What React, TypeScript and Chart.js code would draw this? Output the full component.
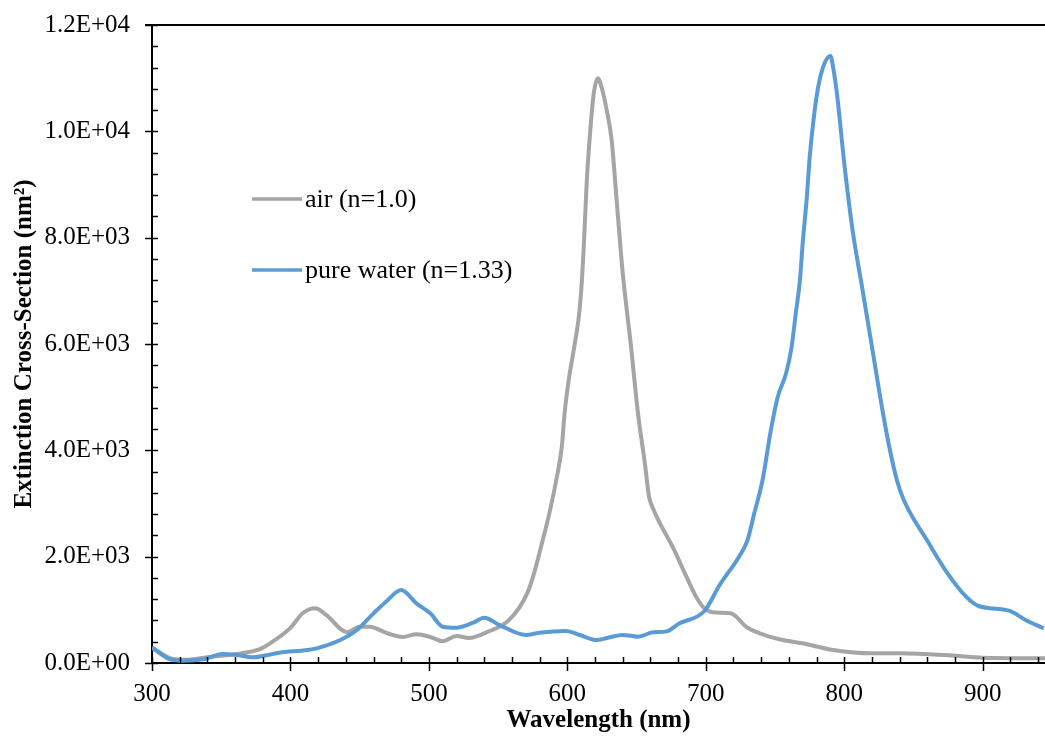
import React, { useEffect, useRef } from "react";
import { Chart, registerables } from "chart.js";

Chart.register(...registerables);

// ---------- data ----------
const airWavelengths = [
  300, 315, 325, 340, 361, 378, 387, 400, 409, 418, 426, 441, 450, 457, 470, 481, 491, 501, 510, 520,
  529, 542, 558, 571, 576, 581, 587, 592, 596, 598, 601, 605, 608, 610, 612, 614, 617, 619, 622, 625,
  628, 632, 636, 640, 646, 651, 656, 659, 662, 667, 676, 686, 693, 699, 705, 718, 722, 729, 739, 753,
  770, 792, 820, 840, 873, 900, 945,
];
const airValues = [
  290, 75, 60, 110, 170, 260, 400, 660, 940, 1030, 900, 580, 680, 680, 560, 490, 540, 490, 410, 510,
  470, 580, 810, 1310, 1690, 2187, 2815, 3442, 4068, 4696, 5323, 5949, 6450, 7000, 7900, 9050, 10156, 10700, 10997, 10800,
  10457, 9836, 8576, 7335, 5949, 4696, 3756, 3128, 2900, 2620, 2187, 1623, 1247, 1028, 953, 934, 871, 683, 558, 446,
  370, 245, 182, 182, 150, 100, 88,
];

const waterWavelengths = [
  300, 313, 323, 337, 351, 361, 373, 392, 412, 419, 436, 448, 460, 469, 480, 491, 501, 510, 520, 532,
  540, 551, 570, 580, 599, 609, 621, 630, 640, 651, 662, 671, 681, 699, 710, 724, 730, 735, 741, 747,
  752, 758, 762, 765, 768, 770, 773, 775, 777, 780, 784, 790, 792, 795, 800, 806, 813, 820, 828, 833,
  838, 843, 861, 873, 888, 897, 919, 931, 944,
];
const waterValues = [
  290, 70, 44, 70, 170, 150, 107, 194, 244, 276, 432, 620, 934, 1153, 1373, 1122, 934, 683, 664, 758,
  852, 714, 527, 570, 602, 527, 432, 480, 527, 495, 577, 590, 746, 978, 1467, 2000, 2300, 2815, 3442, 4382,
  5009, 5448, 5949, 6577, 7203, 7900, 8770, 9500, 10025, 10650, 11150, 11416, 11200, 10650, 9400, 8144, 7050, 5949, 4696, 4006,
  3442, 3066, 2257, 1749, 1247, 1072, 984, 809, 652,
];

const seriesLabels = ["air (n=1.0)", "pure water (n=1.33)"];
const seriesColors = ["#A5A5A5", "#5B9BD5"];

const xMajorTicks = [300, 400, 500, 600, 700, 800, 900];
const xMinorStep = 20;
const xMin = 300;
const xMax = 945;

const yMajorTicks = [0, 2000, 4000, 6000, 8000, 10000, 12000];
const yMinorStep = 400;
const yMin = 0;
const yMax = 12000;

const xTitle = "Wavelength (nm)";
const yTitle = "Extinction Cross-Section (nm\u00B2)";

const FONT = "'Liberation Serif', 'Times New Roman', serif";

function fmtSci(v: number): string {
  const s = v.toExponential(1);
  const [m, e] = s.split("e");
  const sign = e[0] === "-" ? "-" : "+";
  const digits = e.replace(/^[+-]/, "").padStart(2, "0");
  return `${m}E${sign}${digits}`;
}

function range(a: number, b: number, step: number): number[] {
  const out: number[] = [];
  for (let v = a; v <= b + 1e-9; v += step) out.push(v);
  return out;
}

const ticksPlugin = {
  id: "customTicks",
  afterDraw(chart: any) {
    const { ctx, chartArea, scales } = chart;
    const xs = scales.x;
    const ys = scales.y;
    ctx.save();
    ctx.strokeStyle = "#000";
    ctx.lineWidth = 2;
    ctx.beginPath();
    ctx.moveTo(chartArea.left - 7, chartArea.top);
    ctx.lineTo(chartArea.right, chartArea.top);
    ctx.stroke();

    ctx.lineWidth = 1.5;
    for (const v of range(xMin, xMax, xMinorStep)) {
      const px = Math.round(xs.getPixelForValue(v)) + 0.5;
      const major = xMajorTicks.includes(v);
      ctx.beginPath();
      ctx.moveTo(px, chartArea.bottom - 6);
      ctx.lineTo(px, major ? chartArea.bottom + 8 : chartArea.bottom);
      ctx.stroke();
    }
    for (const v of range(yMin, yMax, yMinorStep)) {
      const py = Math.round(ys.getPixelForValue(v)) + 0.5;
      const major = yMajorTicks.includes(v);
      ctx.beginPath();
      ctx.moveTo(major ? chartArea.left - 7 : chartArea.left, py);
      ctx.lineTo(chartArea.left + 6, py);
      ctx.stroke();
    }

    const legendX = 252;
    const legendYs = [199, 270];
    ctx.font = `26px ${FONT}`;
    ctx.textBaseline = "middle";
    ctx.textAlign = "left";
    chart.data.datasets.forEach((ds: any, i: number) => {
      const ly = legendYs[i];
      ctx.strokeStyle = ds.borderColor;
      ctx.lineWidth = 3.5;
      ctx.beginPath();
      ctx.moveTo(legendX, ly);
      ctx.lineTo(legendX + 50, ly);
      ctx.stroke();
      ctx.fillStyle = "#000";
      ctx.fillText(ds.label, legendX + 53, ly + 1);
    });
    ctx.restore();
  },
};

export default function App() {
  const canvasRef = useRef<HTMLCanvasElement | null>(null);

  useEffect(() => {
    if (!canvasRef.current) return;
    const airData = airWavelengths.map((x, i) => ({ x, y: airValues[i] }));
    const waterData = waterWavelengths.map((x, i) => ({ x, y: waterValues[i] }));

    const chart = new Chart(canvasRef.current, {
      type: "line",
      data: {
        datasets: [
          {
            label: seriesLabels[0],
            data: airData,
            borderColor: seriesColors[0],
            backgroundColor: seriesColors[0],
            borderWidth: 4,
            pointRadius: 0,
            cubicInterpolationMode: "monotone",
            order: 2,
          },
          {
            label: seriesLabels[1],
            data: waterData,
            borderColor: seriesColors[1],
            backgroundColor: seriesColors[1],
            borderWidth: 4,
            pointRadius: 0,
            cubicInterpolationMode: "monotone",
            order: 1,
          },
        ],
      },
      options: {
        animation: false,
        responsive: false,
        devicePixelRatio: 1,
        layout: { padding: { left: 0, right: 0, top: 25, bottom: 0 } },
        plugins: {
          legend: { display: false },
          tooltip: { enabled: false },
        },
        scales: {
          x: {
            type: "linear",
            min: xMin,
            max: xMax,
            afterBuildTicks: (scale: any) => {
              scale.ticks = xMajorTicks.map((v) => ({ value: v }));
            },
            afterFit: (scale: any) => {
              scale.height = 74;
              scale.paddingLeft = 0;
              scale.paddingRight = 0;
            },
            grid: { display: false },
            border: { display: true, color: "#000", width: 2 },
            ticks: {
              color: "#000",
              font: { family: FONT, size: 25 },
              padding: 8,
              maxRotation: 0,
              autoSkip: false,
              callback: (v: any) => String(v),
            },
            title: {
              display: true,
              text: xTitle,
              color: "#000",
              font: { family: FONT, size: 25, weight: "bold" },
              padding: { top: 0, bottom: 1 },
            },
          },
          y: {
            type: "linear",
            min: yMin,
            max: yMax,
            afterBuildTicks: (scale: any) => {
              scale.ticks = yMajorTicks.map((v) => ({ value: v }));
            },
            afterFit: (scale: any) => {
              scale.width = 152;
              scale.paddingTop = 0;
              scale.paddingBottom = 0;
            },
            grid: { display: false },
            border: { display: true, color: "#000", width: 2 },
            ticks: {
              color: "#000",
              font: { family: FONT, size: 25 },
              padding: 14,
              autoSkip: false,
              callback: (v: any) => fmtSci(Number(v)),
            },
            title: {
              display: true,
              text: yTitle,
              color: "#000",
              font: { family: FONT, size: 25, weight: "bold" },
              padding: { top: 10, bottom: 0 },
            },
          },
        },
      },
      plugins: [ticksPlugin],
    } as any);

    return () => chart.destroy();
  }, []);

  return (
    <div style={{ position: "absolute", left: 0, top: 0, width: 1045, height: 737, background: "#fff" }}>
      <canvas ref={canvasRef} width={1045} height={737} style={{ display: "block" }} />
    </div>
  );
}
